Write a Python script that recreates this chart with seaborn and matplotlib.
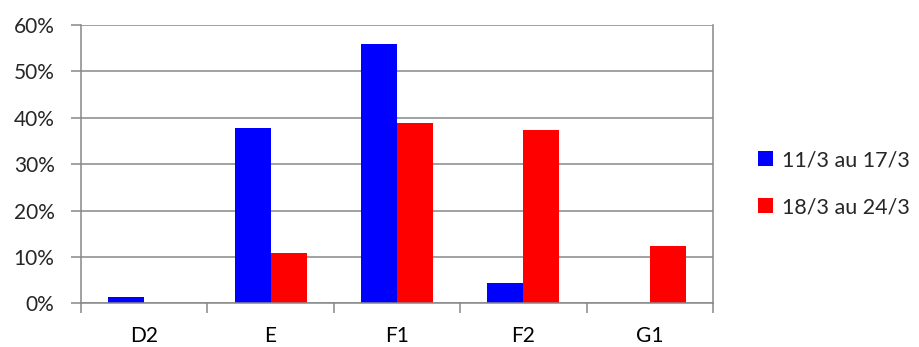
import matplotlib
matplotlib.use("Agg")
import matplotlib.pyplot as plt
from matplotlib.ticker import PercentFormatter, FixedLocator
from matplotlib.patches import Patch
import seaborn as sns
import pandas as pd

categories = ["D2", "E", "F1", "F2", "G1"]
series_names = ["11/3 au 17/3", "18/3 au 24/3"]
week1 = [0.014, 0.378, 0.560, 0.044, 0.0]
week2 = [0.0, 0.108, 0.389, 0.373, 0.124]
colors = ["#0000FF", "#FF0000"]

df = pd.DataFrame({
    "cat": categories * 2,
    "serie": [series_names[0]] * len(categories) + [series_names[1]] * len(categories),
    "val": week1 + week2,
})

sns.set_theme(style="white")
plt.rcParams["font.family"] = ["Lato", "DejaVu Sans"]

fig = plt.figure(figsize=(9.2, 3.47), dpi=100)
ax = fig.add_axes([0.088, 0.126, 0.687, 0.802])

sns.barplot(data=df, x="cat", y="val", hue="serie", order=categories,
            hue_order=series_names, palette=colors, saturation=1,
            width=0.57, ax=ax, legend=False, edgecolor="none", linewidth=0)

grid_c = "#888888"
ax.set_xlim(-0.5, len(categories) - 0.5)
ax.set_ylim(0, 0.6)
ax.set_yticks([0, 0.1, 0.2, 0.3, 0.4, 0.5, 0.6])
ax.yaxis.set_major_formatter(PercentFormatter(1.0, decimals=0))
ax.yaxis.grid(True, color=grid_c, linewidth=1.1)
ax.set_axisbelow(True)

ax.xaxis.set_minor_locator(FixedLocator([i - 0.5 for i in range(len(categories) + 1)]))
ax.tick_params(axis="x", which="major", length=0, pad=16, labelsize=15, colors="black")
ax.tick_params(axis="x", which="minor", length=7, width=1.1, color=grid_c, direction="out", bottom=True)
ax.tick_params(axis="y", which="major", length=7, width=1.1, color=grid_c, pad=12, labelsize=15, left=True)
ax.set_xlabel("")
ax.set_ylabel("")

for side in ["left", "bottom", "right"]:
    ax.spines[side].set_visible(True)
    ax.spines[side].set_color(grid_c)
    ax.spines[side].set_linewidth(1.1)
ax.spines["top"].set_visible(False)

handles = [Patch(facecolor=c, edgecolor="none") for c in colors]
fig.legend(handles, series_names, loc="center left", bbox_to_anchor=(0.803, 0.47),
           frameon=False, fontsize=15.5, handlelength=0.7, handleheight=0.7,
           handletextpad=0.4, labelspacing=1.25)

fig.savefig("out.png", dpi=100)
